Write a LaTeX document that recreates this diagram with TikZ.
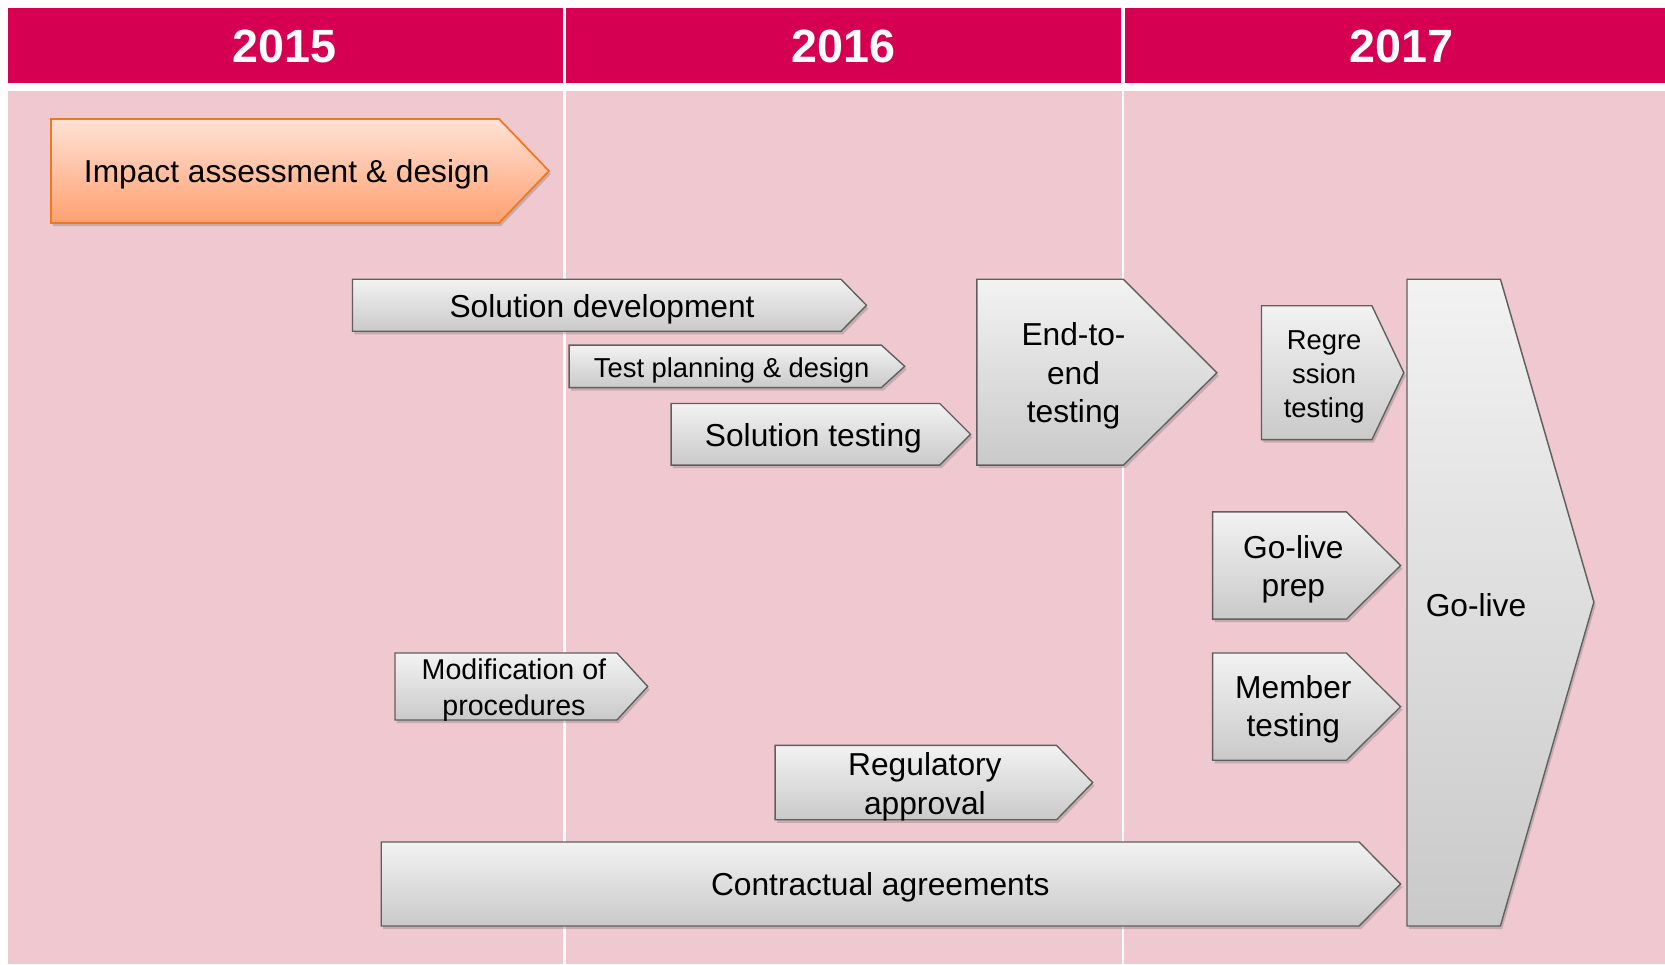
\documentclass[tikz,border=0pt]{standalone}
\usepackage{fontspec}
\setmainfont{Liberation Sans}
\usetikzlibrary{shadows}
\definecolor{yearbar}{RGB}{214,0,82}
\definecolor{lane}{RGB}{240,200,208}
\definecolor{boxedge}{RGB}{95,95,95}
\definecolor{peachtop}{RGB}{255,226,214}
\definecolor{peachbot}{RGB}{255,160,112}
\definecolor{orangeedge}{RGB}{242,118,28}
\tikzset{
  phase/.style={draw=boxedge, line width=1.1pt, line join=miter, top color=gray!10, bottom color=gray!42,
    drop shadow={opacity=0.4, shadow xshift=1.5pt, shadow yshift=-2.5pt}},
  hotphase/.style={phase, draw=orangeedge, line width=1.4pt, top color=peachtop, bottom color=peachbot},
  lbl/.style={align=center, inner sep=0pt, yshift=-2.5pt, font=\fontsize{25.5}{30.6}\selectfont},
  smalllbl/.style={lbl, font=\fontsize{22}{27}\selectfont},
  year/.style={text=white, font=\fontsize{37.5}{40}\selectfont\bfseries}
}
\begin{document}
\begin{tikzpicture}[x=0.03cm, y=-0.03cm]
    \useasboundingbox (0,0) rectangle (1568,908);
    % year bar and lanes
    \fill[lane] (8,86) rectangle (1568,908);
    \fill[yearbar] (8,8) rectangle (530,78);
    \fill[yearbar] (533,8) rectangle (1056,78);
    \fill[yearbar] (1059,8) rectangle (1568,78);
    \draw[white, line width=2pt] (531.5,86) -- (531.5,908);
    \draw[white, line width=2pt] (1057.5,86) -- (1057.5,908);
    \node[year] (y2015) at (268,44) {2015};
    \node[year] (y2016) at (794,44) {2016};
    \node[year] (y2017) at (1320,44) {2017};

    % phases
    \draw[hotphase] (48,112) -- (470,112) -- (517,161) -- (470,210) -- (48,210) -- cycle;
    \node[lbl] (impact) at (270,161) {Impact assessment \& design};

    \draw[phase] (332,263) -- (792,263) -- (816,287.5) -- (792,312) -- (332,312) -- cycle;
    \node[lbl] (soldev) at (567,288) {Solution development};

    \draw[phase] (536,325) -- (830,325) -- (852,345) -- (830,365) -- (536,365) -- cycle;
    \node[smalllbl] (testplan) at (689,346) {Test planning \& design};

    \draw[phase] (632,380) -- (885,380) -- (914,409) -- (885,438) -- (632,438) -- cycle;
    \node[lbl] (soltest) at (766,410) {Solution testing};

    \draw[phase] (920,263) -- (1058,263) -- (1146,351) -- (1058,438) -- (920,438) -- cycle;
    \node[lbl] (endtoend) at (1011,351) {End-to-\\end\\testing};

    \draw[phase] (1188,288) -- (1292,288) -- (1322,351) -- (1292,414) -- (1188,414) -- cycle;
    \node[smalllbl] (regress) at (1247,352) {Regre\\ssion\\testing};

    \draw[phase] (1142,482) -- (1268,482) -- (1319,532.5) -- (1268,583) -- (1142,583) -- cycle;
    \node[lbl] (prep) at (1218,533) {Go-live\\prep};

    \draw[phase] (1142,615) -- (1268,615) -- (1319,665.5) -- (1268,716) -- (1142,716) -- cycle;
    \node[lbl] (member) at (1218,665) {Member\\testing};

    \draw[phase] (372,615) -- (581,615) -- (610,646.5) -- (581,678) -- (372,678) -- cycle;
    \node[lbl, font=\fontsize{23}{29}\selectfont] (procs) at (484,647) {Modification of\\procedures};

    \draw[phase] (730,702) -- (995,702) -- (1029,737) -- (995,772) -- (730,772) -- cycle;
    \node[lbl] (regul) at (871,738) {Regulatory\\approval};

    \draw[phase] (359,793) -- (1280,793) -- (1319,832.5) -- (1280,872) -- (359,872) -- cycle;
    \node[lbl] (contract) at (829,833) {Contractual agreements};

    \draw[phase] (1325,263) -- (1413,263) -- (1501,567) -- (1413,872) -- (1325,872) -- cycle;
    \node[lbl] (golive) at (1390,567) {Go-live};
\end{tikzpicture}
\end{document}
